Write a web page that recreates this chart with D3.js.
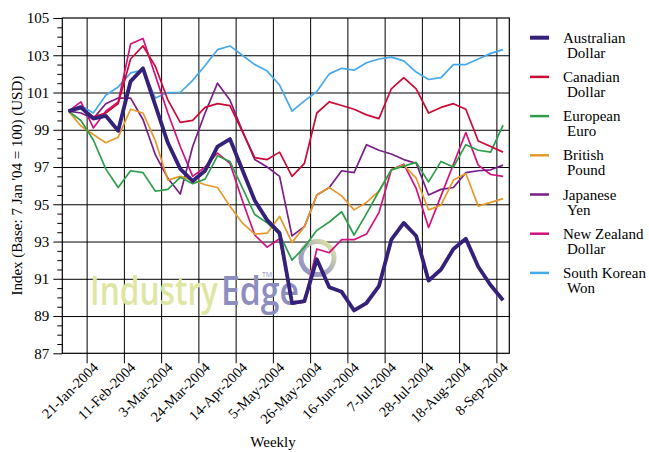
<!DOCTYPE html>
<html>
<head>
<meta charset="utf-8">
<script src="https://cdn.jsdelivr.net/npm/d3@7"></script>
<style>
  html, body { margin: 0; padding: 0; background: #ffffff; }
  svg { display: block; }
  text { font-family: "Liberation Serif", "Times New Roman", serif; fill: #000; }
  .watermark text { font-family: "Open Sans", "Lato", sans-serif; font-weight: 600; }
</style>
</head>
<body>
<svg id="chart" width="649" height="452"></svg>
<script>
// Weekly categories, 7 Jan 2004 to 8 Sep 2004
const weeks = [
  "7-Jan-2004", "14-Jan-2004", "21-Jan-2004", "28-Jan-2004", "4-Feb-2004", "11-Feb-2004",
  "18-Feb-2004", "25-Feb-2004", "3-Mar-2004", "10-Mar-2004", "17-Mar-2004", "24-Mar-2004",
  "31-Mar-2004", "7-Apr-2004", "14-Apr-2004", "21-Apr-2004", "28-Apr-2004", "5-May-2004",
  "12-May-2004", "19-May-2004", "26-May-2004", "2-Jun-2004", "9-Jun-2004", "16-Jun-2004",
  "23-Jun-2004", "30-Jun-2004", "7-Jul-2004", "14-Jul-2004", "21-Jul-2004", "28-Jul-2004",
  "4-Aug-2004", "11-Aug-2004", "18-Aug-2004", "25-Aug-2004", "1-Sep-2004", "8-Sep-2004"
];

const tickLabels = [
  "21-Jan-2004", "11-Feb-2004", "3-Mar-2004", "24-Mar-2004", "14-Apr-2004", "5-May-2004",
  "26-May-2004", "16-Jun-2004", "7-Jul-2004", "28-Jul-2004", "18-Aug-2004", "8-Sep-2004"
];

const yMajorTicks = [87, 89, 91, 93, 95, 97, 99, 101, 103, 105];

// Index values (base 7 Jan 2004 = 100)
const australianDollar = [100, 100.2, 99.6, 99.75, 98.95, 101.6, 102.3, 100.3, 98.3, 96.9, 96.25, 96.8,
  98.1, 98.5, 96.85, 95.2, 94.15, 93.45, 89.7, 89.8, 92.05, 90.55, 90.3, 89.3,
  89.7, 90.6, 93.1, 94.0, 93.3, 90.9, 91.5, 92.6, 93.15, 91.65, 90.65, 89.85];

const canadianDollar = [100, 100.2, 99.7, 99.9, 100.4, 102.8, 103.5, 102.4, 100.6, 99.4, 99.5, 100.2,
  100.4, 100.3, 98.9, 97.5, 97.4, 97.8, 96.5, 97.2, 99.9, 100.5, 100.3, 100.1,
  99.8, 99.6, 101.2, 101.8, 101.2, 99.9, 100.2, 100.4, 100.1, 98.4, 98.1, 97.8];

const europeanEuro = [100, 99.5, 98.45, 96.9, 95.9, 96.8, 96.7, 95.7, 95.8, 96.45, 96.1, 96.35,
  97.6, 97.3, 95.9, 94.45, 94.0, 93.4, 92.0, 92.7, 93.6, 94.05, 94.6, 93.35,
  94.5, 95.7, 96.85, 97.05, 97.25, 96.2, 97.3, 97.0, 98.2, 97.9, 97.8, 99.25];

const britishPound = [100, 99.2, 98.75, 98.3, 98.6, 100.1, 99.9, 98.4, 96.3, 96.5, 96.3, 96.05,
  95.9, 94.9, 94.0, 93.4, 93.45, 94.35, 92.95, 93.8, 95.5, 95.9, 95.45, 94.7,
  95.1, 95.7, 96.85, 97.1, 96.4, 94.7, 94.95, 96.3, 96.65, 94.9, 95.1, 95.3];

const japaneseYen = [100, 99.9, 99.6, 100.4, 100.7, 100.7, 99.55, 97.65, 96.4, 95.55, 98.1, 99.9,
  101.5, 100.6, 98.95, 97.4, 97.0, 96.5, 93.3, 93.8, 95.5, 95.9, 96.8, 96.7,
  98.2, 97.9, 97.7, 97.4, 97.2, 95.5, 95.8, 95.9, 96.7, 96.8, 96.85, 97.1];

const newZealandDollar = [100, 100.5, 99.1, 100.0, 100.5, 103.6, 103.9, 101.9, 99.9, 98.1, 96.5, 97.0,
  97.75, 97.2, 95.2, 93.35, 92.7, 93.15, 89.65, 89.75, 92.6, 92.4, 93.1, 93.1,
  93.4, 94.55, 96.85, 97.15, 95.85, 93.75, 95.45, 97.15, 98.85, 97.1, 96.6, 96.5];

const southKoreanWon = [100, 100.3, 99.9, 100.85, 101.3, 102.05, 102.2, 100.7, 101.0, 101.0, 101.65, 102.45,
  103.3, 103.5, 103.0, 102.5, 102.15, 101.4, 100.0, 100.55, 101.05, 102.0, 102.3, 102.2,
  102.6, 102.8, 102.9, 102.7, 102.1, 101.7, 101.8, 102.5, 102.5, 102.8, 103.1, 103.3];

const seriesNames = [
  ["Australian", "Dollar"], ["Canadian", "Dollar"], ["European", "Euro"], ["British", "Pound"],
  ["Japanese", "Yen"], ["New Zealand", "Dollar"], ["South Korean", "Won"]
];
const seriesValues = [australianDollar, canadianDollar, europeanEuro, britishPound,
  japaneseYen, newZealandDollar, southKoreanWon];
const seriesColors = ["#35207a", "#cc0a36", "#2e9e4a", "#e59a2b", "#7b1d88", "#d2117c", "#45a9ea"];
const seriesWidths = [3.8, 1.7, 1.7, 1.7, 1.7, 1.7, 1.7];

// Layout
const svg = d3.select("#chart");
const plotLeft = 62.3, plotRight = 509.3, plotTop = 18, plotBottom = 353.3;
const plotW = plotRight - plotLeft, plotH = plotBottom - plotTop;

const x = d3.scaleBand().domain(weeks).range([plotLeft, plotRight]).padding(0);
const y = d3.scaleLinear().domain([87, 105]).range([plotBottom, plotTop]);
const bw = x.bandwidth();

// Horizontal gridlines
svg.append("g")
  .attr("transform", `translate(${plotLeft},0)`)
  .call(d3.axisLeft(y).tickValues([89, 91, 93, 95, 97, 99, 101, 103]).tickSize(-plotW).tickFormat(""))
  .call(g => g.select(".domain").remove())
  .call(g => g.selectAll("line").attr("stroke", "#000").attr("stroke-width", 1));

// Vertical gridlines + outer tick marks, placed at the start of each labelled week
const xAxis = svg.append("g")
  .attr("transform", `translate(${-bw / 2},${plotBottom})`)
  .call(d3.axisBottom(x).tickValues(tickLabels).tickSize(10).tickPadding(0))
  .call(g => g.select(".domain").remove());
xAxis.selectAll(".tick line")
  .attr("y1", -plotH).attr("y2", 10)
  .attr("stroke", "#000").attr("stroke-width", 1);
xAxis.selectAll(".tick text")
  .style("font-size", "14.5px")
  .style("font-family", "Liberation Serif, serif")
  .attr("text-anchor", "end")
  .attr("y", 0)
  .attr("dy", 0)
  .attr("transform", "translate(12,15) rotate(-45)");

// Watermark: each word is squeezed horizontally to its target width
const wm = svg.append("g").attr("class", "watermark");
function fitWord(word, x0, width, color) {
  const g = wm.append("g");
  const t = g.append("text")
    .attr("x", 0).attr("y", 0)
    .style("font-size", "39px")
    .style("fill", color)
    .text(word);
  const natural = t.node().getComputedTextLength();
  g.attr("transform", `translate(${x0},305) scale(${width / natural},1)`);
}
fitWord("Industry", 90, 128, "#dfe6a2");
fitWord("Edge", 221, 78, "#8d8dc0");
wm.append("text")
  .attr("x", 262).attr("y", 277)
  .style("font-size", "7px")
  .style("font-weight", 400)
  .style("fill", "#8d8dc0")
  .text("TM");
const defs = svg.append("defs");
const grad = defs.append("linearGradient").attr("id", "ringGrad")
  .attr("x1", "0%").attr("y1", "100%").attr("x2", "100%").attr("y2", "0%");
grad.append("stop").attr("offset", "0%").attr("stop-color", "#8d8dc0");
grad.append("stop").attr("offset", "45%").attr("stop-color", "#a9abc0");
grad.append("stop").attr("offset", "100%").attr("stop-color", "#e4e89e");
wm.append("circle")
  .attr("cx", 317.5).attr("cy", 258).attr("r", 16.5)
  .attr("fill", "none").attr("stroke", "url(#ringGrad)").attr("stroke-width", 5);

// Series lines
const line = d3.line()
  .x((d, i) => x(weeks[i]) + bw / 2)
  .y(d => y(d));

svg.append("g").attr("class", "series")
  .selectAll("path")
  .data(seriesValues.map((v, i) => ({ v, i })).reverse())
  .join("path")
  .attr("d", d => line(d.v))
  .attr("fill", "none")
  .attr("stroke", d => seriesColors[d.i])
  .attr("stroke-width", d => seriesWidths[d.i])
  .attr("stroke-linejoin", "round");

// Plot frame
svg.append("rect")
  .attr("x", plotLeft).attr("y", plotTop).attr("width", plotW).attr("height", plotH)
  .attr("fill", "none").attr("stroke", "#000").attr("stroke-width", 1.2);

// Y axis: minor ticks every 0.5, labelled majors every 2
svg.append("g")
  .attr("transform", `translate(${plotLeft},0)`)
  .call(d3.axisLeft(y).tickValues(d3.range(87, 105.01, 0.5).filter(v => v % 2 !== 1)).tickSize(5).tickFormat(""))
  .call(g => g.select(".domain").remove())
  .call(g => g.selectAll("line").attr("stroke", "#000"));
svg.append("g")
  .attr("transform", `translate(${plotLeft},0)`)
  .call(d3.axisLeft(y).tickValues(yMajorTicks).tickSize(9).tickPadding(4).tickFormat(d3.format("d")))
  .call(g => g.select(".domain").remove())
  .call(g => g.selectAll("line").attr("stroke", "#000"))
  .call(g => g.selectAll("text")
    .style("font-size", "15px")
    .style("font-family", "Liberation Serif, serif"));

// Axis titles
svg.append("text")
  .attr("transform", `translate(22,${(plotTop + plotBottom) / 2}) rotate(-90)`)
  .attr("text-anchor", "middle")
  .style("font-size", "15px")
  .text("Index (Base: 7 Jan '04 = 100) (USD)");
svg.append("text")
  .attr("x", 273).attr("y", 447)
  .attr("text-anchor", "middle")
  .style("font-size", "15px")
  .text("Weekly");

// Legend
const legend = svg.append("g").attr("class", "legend")
  .selectAll("g")
  .data(seriesNames.map((n, i) => ({ n, i })))
  .join("g")
  .attr("transform", d => `translate(530,${37.7 + d.i * 39.2})`);
legend.append("line")
  .attr("x1", 0).attr("x2", 19).attr("y1", 0).attr("y2", 0)
  .attr("stroke", d => seriesColors[d.i])
  .attr("stroke-width", d => d.i === 0 ? 4 : 2.5);
legend.append("text")
  .attr("x", 33).attr("y", 5)
  .style("font-size", "15px")
  .text(d => d.n[0]);
legend.append("text")
  .attr("x", 37).attr("y", 20)
  .style("font-size", "15px")
  .text(d => d.n[1]);
</script>
</body>
</html>
